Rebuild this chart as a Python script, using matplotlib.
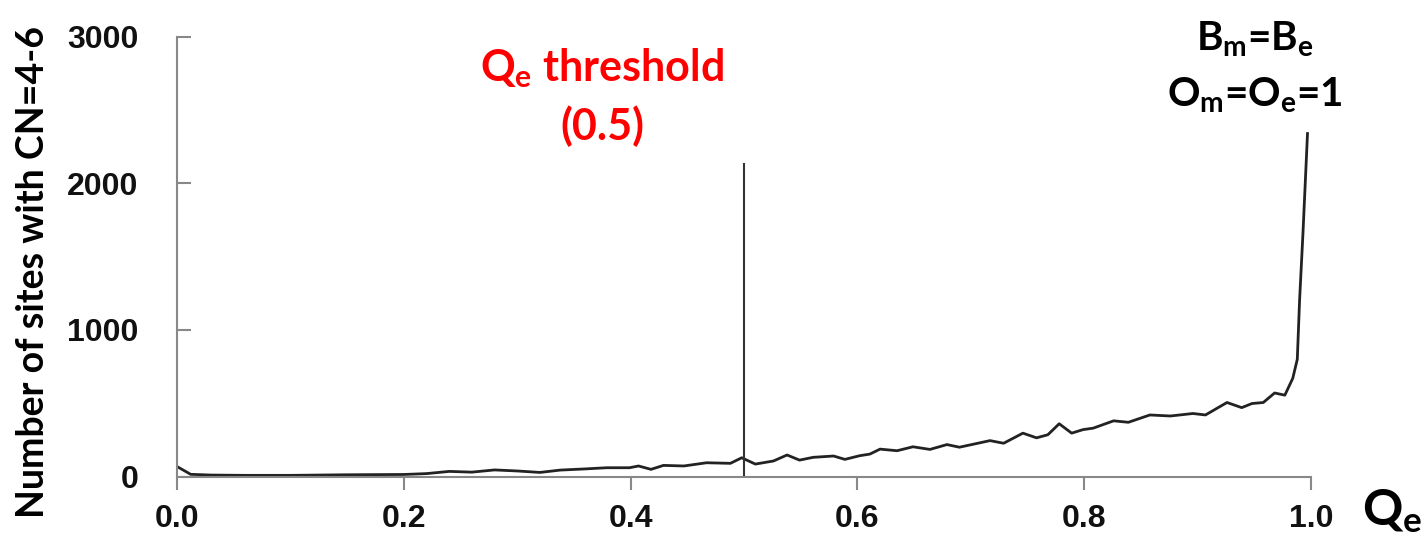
import matplotlib
matplotlib.use("Agg")
import matplotlib.pyplot as plt

qe = [0.000, 0.012, 0.030, 0.060, 0.100, 0.150, 0.200, 0.220, 0.240, 0.260, 0.280, 0.300, 0.320,
      0.338, 0.360, 0.379, 0.399, 0.407, 0.418, 0.429, 0.447, 0.467, 0.488, 0.498, 0.510,
      0.526, 0.538, 0.549, 0.561, 0.579, 0.589, 0.602, 0.611, 0.620, 0.635, 0.649, 0.664,
      0.679, 0.690, 0.717, 0.729, 0.746, 0.758, 0.768, 0.778, 0.789, 0.799, 0.808, 0.826,
      0.839, 0.858, 0.876, 0.896, 0.907, 0.926, 0.939, 0.948, 0.958, 0.968, 0.977, 0.984,
      0.988, 0.990, 0.993, 0.997]
counts = [68, 15, 10, 8, 8, 12, 14, 20, 35, 30, 45, 38, 28,
          44, 52, 60, 60, 72, 49, 76, 72, 94, 90, 128, 85,
          106, 147, 112, 131, 140, 117, 142, 153, 187, 176, 203, 185,
          218, 200, 245, 227, 296, 264, 285, 360, 296, 320, 330, 380,
          370, 420, 413, 430, 420, 505, 470, 498, 505, 570, 555, 670,
          800, 1200, 1660, 2340]
threshold = 0.5
threshold_top = 2130
xticks = [0.0, 0.2, 0.4, 0.6, 0.8, 1.0]
yticks = [0, 1000, 2000, 3000]

plt.rcParams['mathtext.fontset'] = 'custom'
plt.rcParams['mathtext.rm'] = 'Lato:bold'
plt.rcParams['mathtext.it'] = 'Lato:bold'
plt.rcParams['mathtext.bf'] = 'Lato:bold'

fig = plt.figure(figsize=(14.28, 5.49), dpi=100)
ax = fig.add_axes([0.124, 0.132, 0.794, 0.801])
ax.plot(qe, counts, color='#222222', lw=2, solid_joinstyle='round')
ax.plot([threshold, threshold], [0, threshold_top], color='#333333', lw=1.5)
ax.set_xlim(0, 1)
ax.set_ylim(0, 3000)
ax.set_xticks(xticks)
ax.set_xticklabels([f"{v:.1f}" for v in xticks])
ax.set_yticks(yticks)
ax.set_yticklabels([str(v) for v in yticks])
for s in ['top', 'right']:
    ax.spines[s].set_visible(False)
for s in ['left', 'bottom']:
    ax.spines[s].set_color('#888888')
    ax.spines[s].set_linewidth(1.5)
ax.tick_params(axis='x', direction='out', length=9, width=1.5, color='#888888', pad=11)
ax.tick_params(axis='y', direction='in', length=10, width=1.5, color='#888888', pad=28)
for lab in ax.get_xticklabels() + ax.get_yticklabels():
    lab.set_fontfamily('Liberation Sans')
    lab.set_fontweight('bold')
    lab.set_fontsize(23)
    lab.set_color('#111111')

ax.set_ylabel('Number of sites with CN=4-6', fontfamily='Lato', fontweight='bold',
              fontsize=27)
ax.yaxis.set_label_coords(-0.112, 0.465)
fig.text(0.975, 0.025, r'$Q_e$', fontsize=36, ha='center', va='bottom')
ax.text(0.375, 2590, r'$Q_e$ threshold' + '\n(0.5)', color='#ff0000', fontfamily='Lato',
        fontweight='bold', fontsize=31, ha='center', va='center', linespacing=1.45)
ax.text(0.95, 2790, r'$B_m$=$B_e$' + '\n' + r'$O_m$=$O_e$=1', color='black', fontfamily='Lato',
        fontweight='bold', fontsize=29, ha='center', va='center', linespacing=1.55)

fig.savefig('out.png', dpi=100)
